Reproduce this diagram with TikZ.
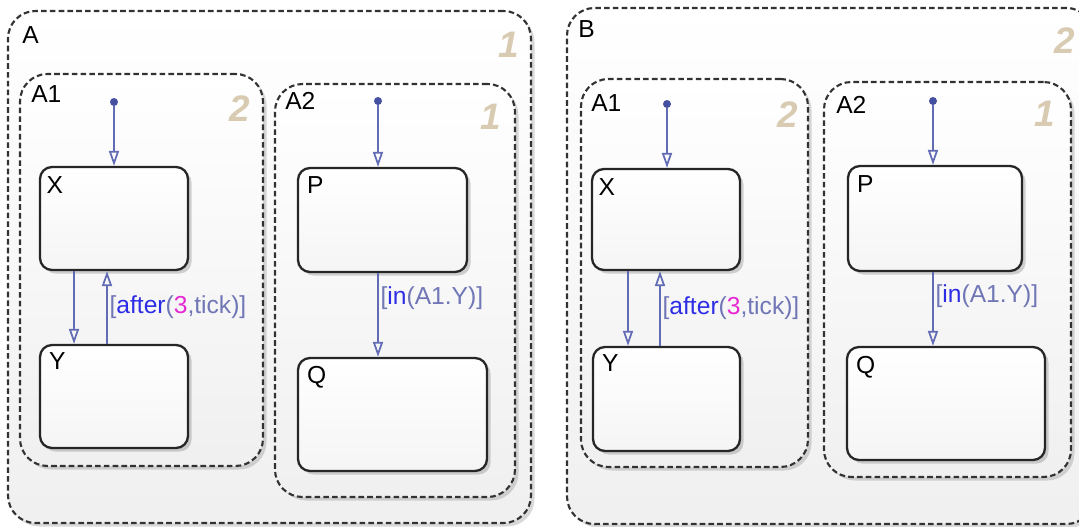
\documentclass[tikz,border=0pt]{standalone}
\usepackage{fontspec}
\setmainfont{Liberation Sans}
\usepackage{xcolor}
\usepackage{tikz}
\usetikzlibrary{arrows.meta, positioning, fit, shadows}
\definecolor{transblue}{RGB}{98, 108, 180}
\definecolor{dotblue}{RGB}{70, 80, 160}
\definecolor{keyblue}{RGB}{45, 45, 230}
\definecolor{numpink}{RGB}{230, 40, 210}
\definecolor{plainblue}{RGB}{112, 118, 182}
\definecolor{ordertan}{RGB}{216, 203, 178}
\definecolor{boxborder}{RGB}{50, 50, 50}
\newcommand{\guardkw}[1]{\textcolor{keyblue}{#1}}
\newcommand{\guardnum}[1]{\textcolor{numpink}{#1}}
\tikzset{
  font=\fontsize{14}{16}\selectfont,
  superbox/.style={
    rectangle, rounded corners=0.55cm, draw=boxborder, line width=1.2pt,
    dash pattern=on 3.2pt off 1.8pt, top color=white, bottom color=black!6,
    inner sep=0pt,
    drop shadow={shadow xshift=2pt, shadow yshift=-2pt, opacity=0.3}
  },
  statebox/.style={
    rectangle, rounded corners=0.24cm, draw=black!85, line width=1.3pt,
    top color=white, bottom color=black!4, inner sep=0pt,
    drop shadow={shadow xshift=2pt, shadow yshift=-2pt, opacity=0.35}
  },
  namelabel/.style={inner sep=0pt, text=black},
  orderlabel/.style={
    inner sep=0pt, text=ordertan,
    font=\fontsize{21}{24}\selectfont\bfseries\itshape
  },
  initdot/.style={circle, fill=dotblue, inner sep=0pt, minimum size=1.6mm},
  transline/.style={
    draw=transblue, line width=1pt,
    -{Triangle[open, length=3mm, width=2mm]}
  },
  guardlabel/.style={inner sep=1pt, anchor=west, text=plainblue}
}

\begin{document}
\begin{tikzpicture}[x=0.02cm, y=-0.02cm]
  \useasboundingbox (0,0) rectangle (1079,527);

  % Superstate A
  \node[superbox, fit={(8,11) (531,523)}] (a_box) {};
  \node[namelabel, below right=0.32cm and 0.3cm of a_box.north west] (a_name) {A};
  \node[orderlabel, below left=0.44cm and 0.26cm of a_box.north east] (a_order) {1};

  % A1 and A2 inside A
  \node[superbox, fit={(20,74) (263,466)}] (a1_box) {};
  \node[namelabel, below right=0.24cm and 0.24cm of a1_box.north west] (a1_name) {A1};
  \node[orderlabel, below left=0.45cm and 0.28cm of a1_box.north east] (a1_order) {2};

  \node[superbox, fit={(275,84) (515,497)}] (a2_box) {};
  \node[namelabel, below right=0.18cm and 0.22cm of a2_box.north west] (a2_name) {A2};
  \node[orderlabel, below left=0.42cm and 0.3cm of a2_box.north east] (a2_order) {1};

  % States of A
  \node[statebox, fit={(40,167) (188,270)}] (a_x) {};
  \node[namelabel, below right=0.2cm and 0.15cm of a_x.north west] {X};
  \node[statebox, fit={(40,345) (188,448)}] (a_y) {};
  \node[namelabel, below right=0.16cm and 0.2cm of a_y.north west] {Y};
  \node[statebox, fit={(298,168) (467,272)}] (a_p) {};
  \node[namelabel, below right=0.18cm and 0.2cm of a_p.north west] {P};
  \node[statebox, fit={(298,358) (487,471)}] (a_q) {};
  \node[namelabel, below right=0.18cm and 0.2cm of a_q.north west] {Q};

  \node[initdot] (a1_init) at (114,102) {};
  \node[initdot] (a2_init) at (378,101) {};

  % Superstate B
  \node[superbox, fit={(567,8) (1094,524)}] (b_box) {};
  \node[namelabel, below right=0.26cm and 0.24cm of b_box.north west] (b_name) {B};
  \node[orderlabel, below left=0.4cm and 0.4cm of b_box.north east] (b_order) {2};

  % A1 and A2 inside B
  \node[superbox, fit={(581,79) (808,467)}] (b1_box) {};
  \node[namelabel, below right=0.32cm and 0.22cm of b1_box.north west] (b1_name) {A1};
  \node[orderlabel, below left=0.46cm and 0.22cm of b1_box.north east] (b1_order) {2};

  \node[superbox, fit={(824,82) (1071,477)}] (b2_box) {};
  \node[namelabel, below right=0.3cm and 0.26cm of b2_box.north west] (b2_name) {A2};
  \node[orderlabel, below left=0.4cm and 0.34cm of b2_box.north east] (b2_order) {1};

  % States of B
  \node[statebox, fit={(592,169) (740,270)}] (b_x) {};
  \node[namelabel, below right=0.2cm and 0.15cm of b_x.north west] {X};
  \node[statebox, fit={(593,347) (740,451)}] (b_y) {};
  \node[namelabel, below right=0.16cm and 0.2cm of b_y.north west] {Y};
  \node[statebox, fit={(848,166) (1022,271)}] (b_p) {};
  \node[namelabel, below right=0.2cm and 0.2cm of b_p.north west] {P};
  \node[statebox, fit={(847,347) (1045,460)}] (b_q) {};
  \node[namelabel, below right=0.2cm and 0.2cm of b_q.north west] {Q};

  \node[initdot] (b1_init) at (667,104) {};
  \node[initdot] (b2_init) at (933,101) {};

  % Transitions
  \draw[transline] (a1_init) -- (a1_init |- a_x.north);
  \draw[transline] ([xshift=-0.8cm]a_x.south) -- ([xshift=-0.8cm]a_y.north);
  \draw[transline] ([xshift=-0.14cm]a_y.north) -- ([xshift=-0.14cm]a_x.south)
    node[guardlabel, pos=0.5] {[\guardkw{after}(\guardnum{3},tick)]};
  \draw[transline] (a2_init) -- (a2_init |- a_p.north);
  \draw[transline] (a_p.south -| a2_init) -- (a_q.north -| a2_init)
    node[guardlabel, pos=0.3] {[\guardkw{in}(A1.Y)]};

  \draw[transline] (b1_init) -- (b1_init |- b_x.north);
  \draw[transline] ([xshift=-0.76cm]b_x.south) -- ([xshift=-0.76cm]b_x.south |- b_y.north);
  \draw[transline] ([xshift=-0.12cm]b_x.south |- b_y.north) -- ([xshift=-0.12cm]b_x.south)
    node[guardlabel, pos=0.5] {[\guardkw{after}(\guardnum{3},tick)]};
  \draw[transline] (b2_init) -- (b2_init |- b_p.north);
  \draw[transline] (b_p.south -| b2_init) -- (b_q.north -| b2_init)
    node[guardlabel, pos=0.33] {[\guardkw{in}(A1.Y)]};

\end{tikzpicture}
\end{document}
